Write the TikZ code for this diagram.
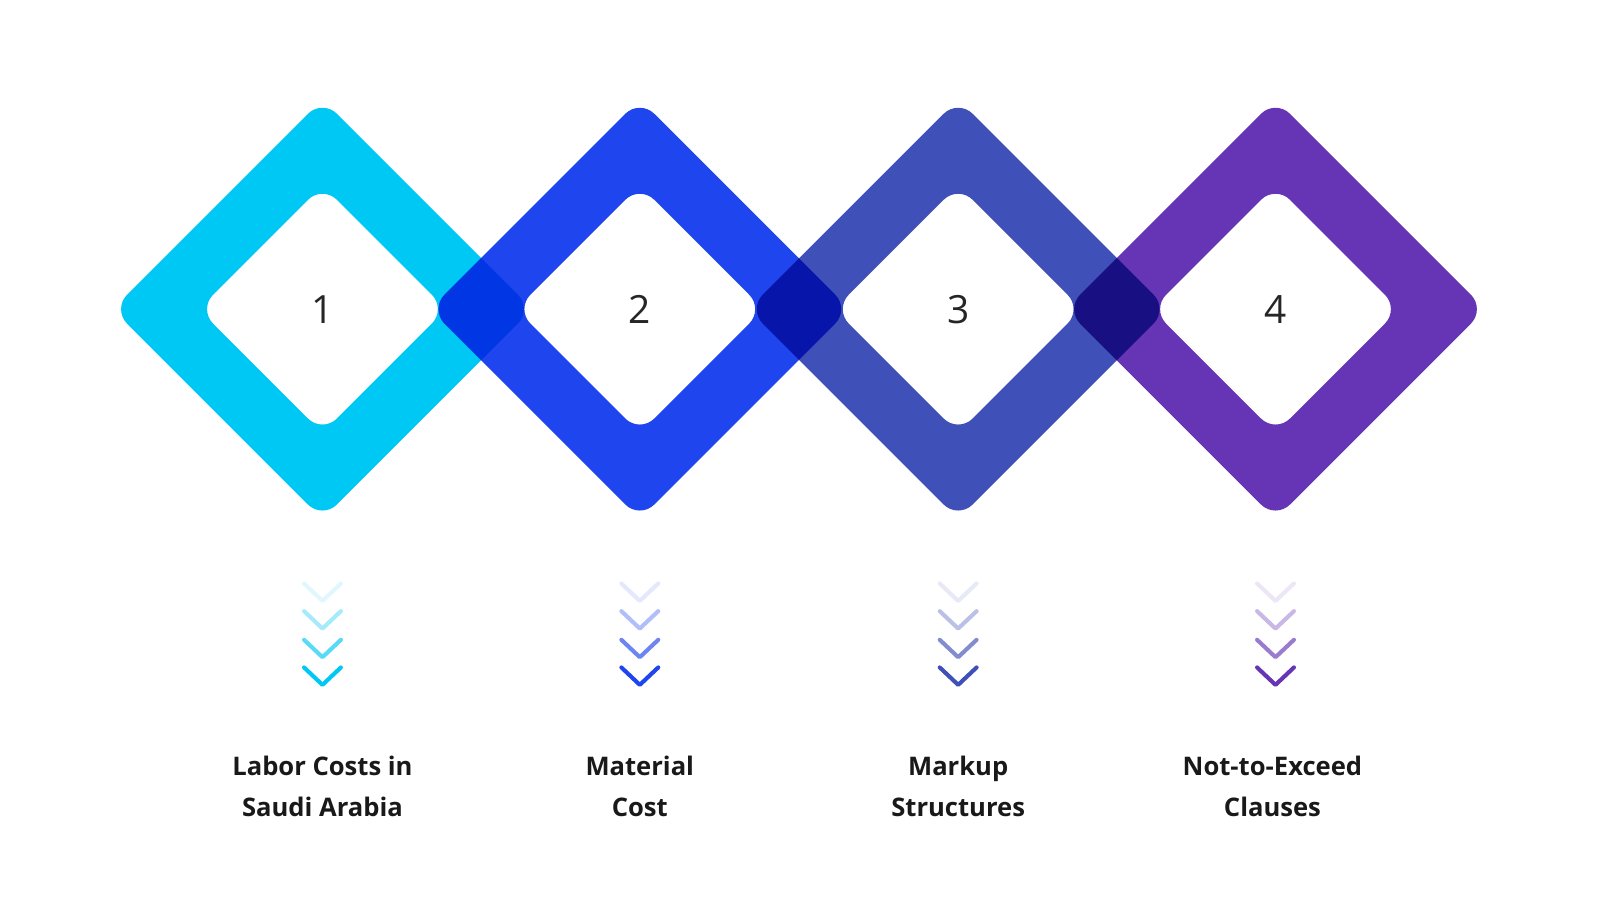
\documentclass[tikz,border=0pt]{standalone}
\usepackage{fontspec}
\setmainfont{Open Sans}
\definecolor{cA}{HTML}{00C8F5}
\definecolor{cB}{HTML}{1F45EE}
\definecolor{cC}{HTML}{3F50B8}
\definecolor{cD}{HTML}{6535B5}
\tikzset{
  ring/.style={fill=#1, even odd rule},
  chev/.style={draw=#1, line width=4pt, line cap=round, line join=round},
  lbl/.style={font=\fontsize{25}{40}\selectfont\bfseries, align=center, text=black!90},
  num/.style={font=\fontsize{38}{40}\selectfont, text=black!85}
}
\begin{document}
\begin{tikzpicture}[x=1pt,y=-1pt]
\fill[white] (0,0) rectangle (1563,879);
\useasboundingbox (0,0) rectangle (1563,879);
\begin{scope}[blend group=multiply]
\foreach \cx/\c/\n [count=\i] in {315/cA/1,625/cB/2,936/cC/3,1246/cD/4}{
  \fill[ring=\c, rounded corners=20pt]
    (\cx-205,302) -- (\cx,97) -- (\cx+205,302) -- (\cx,507) -- cycle
    (\cx-121,302) -- (\cx,181) -- (\cx+121,302) -- (\cx,423) -- cycle;
}
\end{scope}
\foreach \cx/\c/\n [count=\i] in {315/cA/1,625/cB/2,936/cC/3,1246/cD/4}{
  \node[num] (n\i) at (\cx,302) {\n};
  \foreach \y/\o in {578/0.12,605/0.35,633/0.65,660/1}{
    \draw[chev=\c, opacity=\o] (\cx-18,\y-8) -- (\cx,\y+9) -- (\cx+18,\y-8);
  }
}
\node[lbl] (l1) at (315,768) {Labor Costs in\\Saudi Arabia};
\node[lbl] (l2) at (625,768) {Material\\Cost};
\node[lbl] (l3) at (936,768) {Markup\\Structures};
\node[lbl] (l4) at (1243,768) {Not-to-Exceed\\Clauses};
\end{tikzpicture}
\end{document}
